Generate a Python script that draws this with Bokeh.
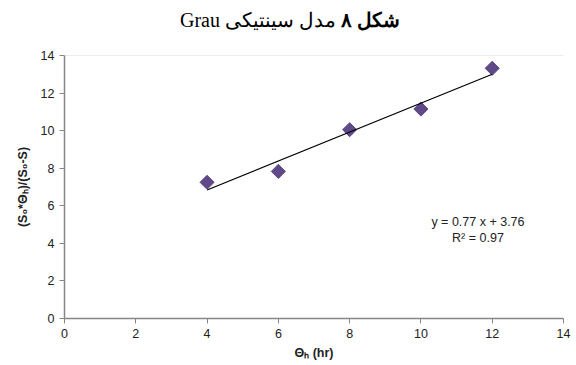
import math
from bokeh.plotting import figure
from bokeh.models import Label, Span, FixedTicker, Range1d, Div
from bokeh.layouts import column
from bokeh.embed import file_html
from bokeh.resources import INLINE

x_vals = [4, 6, 8, 10, 12]
y_vals = [7.25, 7.83, 10.05, 11.15, 13.32]
slope = 0.77
intercept = 3.76
x_ticks = [0, 2, 4, 6, 8, 10, 12, 14]
y_ticks = [0, 2, 4, 6, 8, 10, 12, 14]
eq_text = "y = 0.77 x + 3.76"
r2_text = "R² = 0.97"
title_bold = "شکل ۸"
title_rest = "مدل سینتیکی Grau"
x_label = "Θₕ (hr)"
y_label = "(S₀*Θₕ)/(S₀-S)"

title_div = Div(
    text=f'<div dir="rtl" style="width:560px;margin-left:10px;text-align:center;'
         f'font-family:\'Liberation Serif\',\'DejaVu Serif\',serif;font-size:20px;'
         f'padding-top:6px;line-height:28px;height:28px;color:black">'
         f'<b>{title_bold}</b> {title_rest}</div>',
    width=576, height=34, margin=0)

p = figure(width=576, height=331, output_backend="svg", toolbar_location=None,
           x_range=Range1d(0, 14), y_range=Range1d(0, 14), margin=0)
p.min_border_left = 64
p.min_border_right = 13
p.min_border_top = 21
p.min_border_bottom = 47
p.outline_line_color = None
p.xgrid.visible = False
p.ygrid.visible = False

for ax, ticks in ((p.xaxis[0], x_ticks), (p.yaxis[0], y_ticks)):
    ax.ticker = FixedTicker(ticks=ticks)
    ax.axis_line_color = "#868686"
    ax.axis_line_width = 1.5
    ax.major_tick_line_color = "#868686"
    ax.major_tick_in = 0
    ax.major_tick_out = 5
    ax.minor_tick_line_color = None
    ax.major_label_text_font = "Liberation Sans"
    ax.major_label_text_font_size = "12.5px"
    ax.major_label_text_color = "#222222"
    ax.axis_label_text_font = "Liberation Sans"
    ax.axis_label_text_font_size = "12.5px"
    ax.axis_label_text_font_style = "bold"
    ax.axis_label_text_color = "#222222"

p.xaxis.axis_label = x_label
p.yaxis.axis_label = y_label
p.xaxis.axis_label_standoff = 5
p.yaxis.axis_label_standoff = 8

p.add_layout(Span(location=14, dimension="width", line_color="#d9d9d9", line_width=1))

p.scatter(x_vals, y_vals, marker="square", size=10, angle=math.pi / 4,
          fill_color="#5f4a87", line_color="#5f4a87")

x_fit = [min(x_vals), max(x_vals)]
y_fit = [slope * xv + intercept for xv in x_fit]
p.line(x_fit, y_fit, line_color="black", line_width=1.2)

p.add_layout(Label(x=11.6, y=5.16, text=eq_text, text_align="center", text_baseline="middle",
                   text_font="Liberation Sans", text_font_size="12.5px", text_color="#222222"))
p.add_layout(Label(x=11.6, y=4.26, text=r2_text, text_align="center", text_baseline="middle",
                   text_font="Liberation Sans", text_font_size="12.5px", text_color="#222222"))

layout = column(title_div, p, spacing=0)
open("out.html", "w").write(file_html(layout, INLINE))
